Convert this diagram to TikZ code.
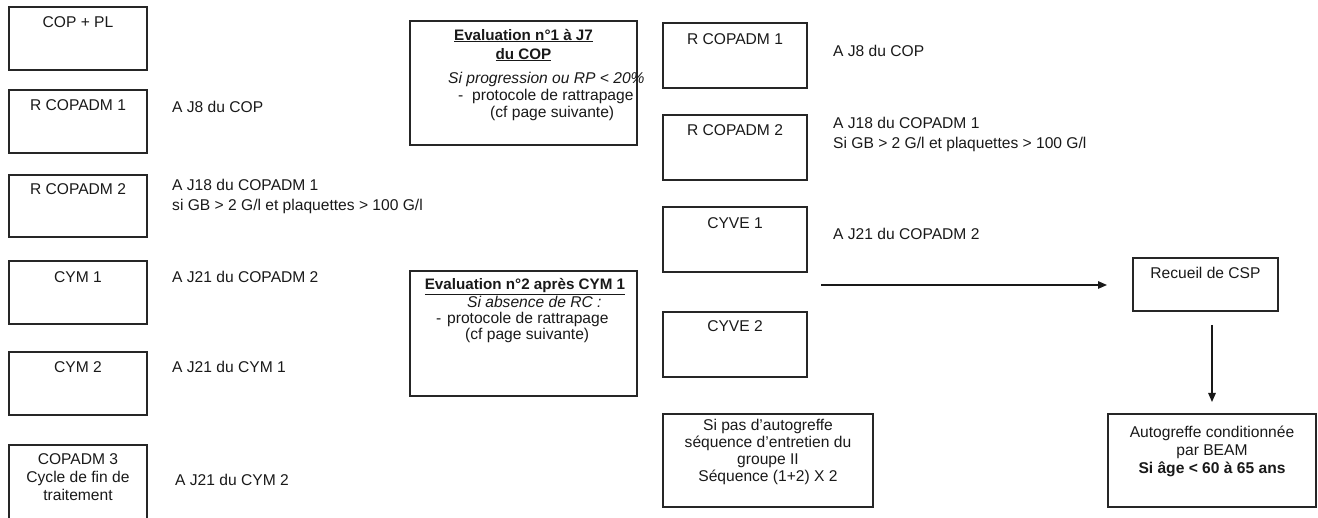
\documentclass[tikz,border=0pt]{standalone}
\usepackage{fontspec}
\setmainfont{Liberation Sans}
\usetikzlibrary{arrows.meta}
\begin{document}
\begin{tikzpicture}[x=1pt,y=-1pt,
  box/.style={draw=black!85, line width=1.3pt, outer sep=0pt, inner sep=0pt, anchor=north west},
  txt/.style={inner sep=0pt, text=black!90, font=\fontsize{15.6}{18}\selectfont},
  arr/.style={draw=black!90, line width=1.3pt, -{Triangle[length=9pt,width=7.5pt]}}]
\useasboundingbox (0,0) rectangle (1318,518);
% left column boxes
\node[box, minimum width=138pt, minimum height=63pt] (cop)  at (9,7) {};
\node[box, minimum width=138pt, minimum height=63pt] (rc1)  at (9,90) {};
\node[box, minimum width=138pt, minimum height=62pt] (rc2)  at (9,175) {};
\node[box, minimum width=138pt, minimum height=63pt] (cym1) at (9,261) {};
\node[box, minimum width=138pt, minimum height=63pt] (cym2) at (9,352) {};
\node[box, minimum width=138pt, minimum height=80pt] (cop3) at (9,445) {};
\node[txt, anchor=base] (tcop)  at (78,27.5) {COP + PL};
\node[txt, anchor=base] (trc1)  at (78,110.5) {R COPADM 1};
\node[txt, anchor=base] (trc2)  at (78,194.5) {R COPADM 2};
\node[txt, anchor=base] (tcym1) at (78,282.5) {CYM 1};
\node[txt, anchor=base] (tcym2) at (78,372.5) {CYM 2};
\node[txt, anchor=north, align=center] (tcop3) at (78,453) {COPADM 3\\Cycle de fin de\\traitement};
% left side texts
\node[txt, anchor=base west] (s1) at (172,112.5) {A J8 du COP};
\node[txt, anchor=north west, align=left, font=\fontsize{15.6}{19.5}\selectfont] (s2) at (172,179.3) {A J18 du COPADM 1\\si GB > 2 G/l et plaquettes > 100 G/l};
\node[txt, anchor=base west] (s3) at (172,282.5) {A J21 du COPADM 2};
\node[txt, anchor=base west] (s4) at (172,372.5) {A J21 du CYM 1};
\node[txt, anchor=base west] (s5) at (175,485.5) {A J21 du CYM 2};
% evaluation boxes
\node[box, minimum width=227pt, minimum height=124pt] (ev1) at (410,21) {};
\node[txt, anchor=north, align=center, font=\fontsize{15.2}{19}\selectfont\bfseries] (ev1t) at (523.5,28.8) {\underline{Evaluation n°1 à J7}\\\underline{du COP}};
\node[txt, anchor=north west, align=left, font=\fontsize{15.6}{17}\selectfont] (ev1b) at (448,71.7) {{\itshape Si progression ou RP < 20\%}\\\hspace*{10pt}-\hspace*{8.8pt}protocole de rattrapage\\\hspace*{42pt}(cf page suivante)};
\node[box, minimum width=227pt, minimum height=125pt] (ev2) at (410,271) {};
\node[txt, anchor=base, font=\fontsize{15.2}{19}\selectfont\bfseries] (ev2t) at (525,290) {\underline{Evaluation n°2 après CYM 1}};
\node[txt, anchor=north west, align=left, font=\fontsize{15.6}{16}\selectfont] (ev2b) at (436,295.7) {\hspace*{31pt}{\itshape Si absence de RC :}\\-\hspace*{5.8pt}protocole de rattrapage\\\hspace*{29pt}(cf page suivante)};
% right-middle column
\node[box, minimum width=144pt, minimum height=65pt] (rr1)   at (663,23) {};
\node[box, minimum width=144pt, minimum height=65pt] (rr2)   at (663,115) {};
\node[box, minimum width=144pt, minimum height=65pt] (cyve1) at (663,207) {};
\node[box, minimum width=144pt, minimum height=65pt] (cyve2) at (663,312) {};
\node[box, minimum width=210pt, minimum height=93pt] (sipas) at (663,414) {};
\node[txt, anchor=base] (trr1)   at (735,44.6) {R COPADM 1};
\node[txt, anchor=base] (trr2)   at (735,135.6) {R COPADM 2};
\node[txt, anchor=base] (tcyve1) at (735,228.6) {CYVE 1};
\node[txt, anchor=base] (tcyve2) at (735,331.6) {CYVE 2};
\node[txt, anchor=north, align=center, font=\fontsize{15.6}{17}\selectfont] (tsipas) at (768,418.6) {Si pas d’autogreffe\\séquence d’entretien du\\groupe II\\Séquence (1+2) X 2};
\node[txt, anchor=base west] (r1) at (833,56.6) {A J8 du COP};
\node[txt, anchor=north west, align=left, font=\fontsize{15.6}{20}\selectfont] (r2) at (833,117.3) {A J18 du COPADM 1\\Si GB > 2 G/l et plaquettes > 100 G/l};
\node[txt, anchor=base west] (r3) at (833,239.6) {A J21 du COPADM 2};
% far right
\node[box, minimum width=145pt, minimum height=53pt] (recueil) at (1133,258) {};
\node[txt, anchor=base] (trec) at (1205.5,278.6) {Recueil de CSP};
\node[box, minimum width=208pt, minimum height=93pt] (autog) at (1108,414) {};
\node[txt, anchor=north, align=center, font=\fontsize{15.6}{18}\selectfont] (tautog) at (1212,425.6) {Autogreffe conditionnée\\par BEAM\\{\bfseries Si âge < 60 à 65 ans}};
% connectors
\coordinate (hstart) at (821,285);
\draw[arr, shorten >=26pt] (hstart) -- (hstart -| recueil.west);
\draw[arr, shorten <=14pt, shorten >=12pt] (recueil.south -| autog.north) -- (autog.north);
\end{tikzpicture}
\end{document}
